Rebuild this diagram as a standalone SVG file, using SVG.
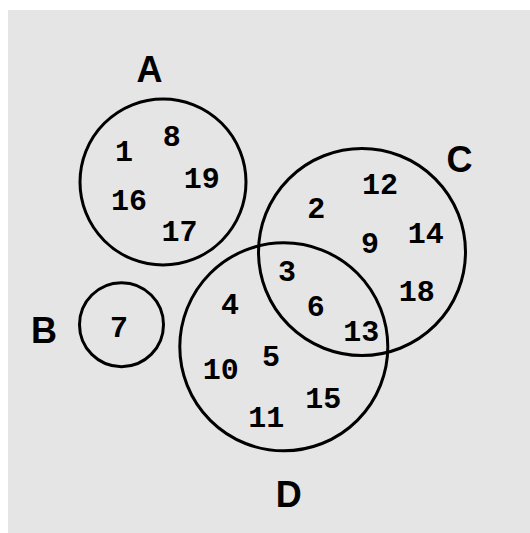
<svg xmlns="http://www.w3.org/2000/svg" width="530" height="533" viewBox="0 0 530 533">
<style>
.set{fill:none;stroke:#000;stroke-width:3}
.lbl{font-family:"Liberation Sans",Arial,sans-serif;font-weight:bold;font-size:36px;text-anchor:middle;fill:#000}
.num{font-family:"Liberation Mono","Courier New",monospace;font-weight:bold;font-size:30px;text-anchor:middle;fill:#000}
</style>
<rect x="8" y="10" width="522" height="523" fill="#e5e5e5"/>
<g id="A">
<circle class="set" cx="163" cy="182" r="83"/>
<text class="lbl" x="149.5" y="82">A</text>
<text class="num" x="124" y="161">1</text>
<text class="num" x="171.7" y="145.7">8</text>
<text class="num" x="201.7" y="188">19</text>
<text class="num" x="129" y="210">16</text>
<text class="num" x="179.5" y="240.5">17</text>
</g>
<g id="B">
<circle class="set" cx="121.5" cy="324.7" r="42"/>
<text class="lbl" x="44" y="342.5">B</text>
<text class="num" x="119" y="337">7</text>
</g>
<g id="C">
<circle class="set" cx="362" cy="252" r="103.5"/>
<text class="lbl" x="459.5" y="171.5">C</text>
<text class="num" x="380" y="194">12</text>
<text class="num" x="316.3" y="218">2</text>
<text class="num" x="370" y="253">9</text>
<text class="num" x="425.8" y="242.7">14</text>
<text class="num" x="416.7" y="301.3">18</text>
</g>
<g id="D">
<circle class="set" cx="283.8" cy="346.8" r="104"/>
<text class="lbl" x="288.7" y="506.5">D</text>
<text class="num" x="287" y="280.5">3</text>
<text class="num" x="315.7" y="316">6</text>
<text class="num" x="361.3" y="341">13</text>
<text class="num" x="230" y="314">4</text>
<text class="num" x="271" y="366">5</text>
<text class="num" x="220.8" y="379.3">10</text>
<text class="num" x="266.3" y="427">11</text>
<text class="num" x="323.3" y="408">15</text>
</g>
<g id="connectors"></g>
</svg>
